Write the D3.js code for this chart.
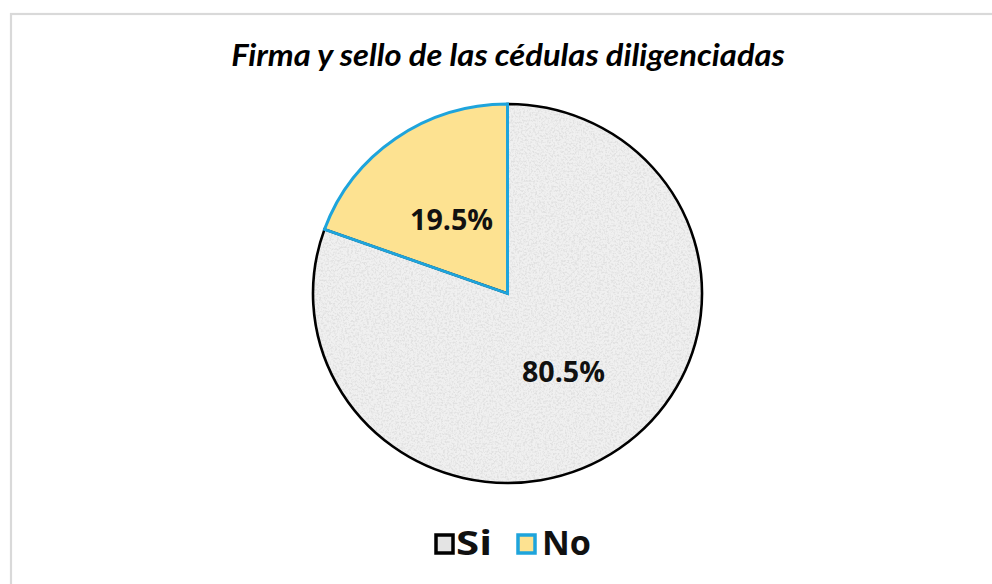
<!DOCTYPE html>
<html><head><meta charset="utf-8">
<script src="https://cdn.jsdelivr.net/npm/d3@7"></script>
<style>html,body{margin:0;padding:0;background:#fff;}svg{display:block;}</style>
</head><body>
<svg id="chart" width="992" height="584"></svg>
<script>
const title = "Firma y sello de las cédulas diligenciadas";
const categories = ["Si", "No"];
const values = [80.5, 19.5];
const labels = ["80.5%", "19.5%"];

const W = 992, H = 584;
const svg = d3.select("#chart");
const fills = {Si: "#f0f0f0", No: "#fde291"};
const strokes = {Si: "#000000", No: "#1ea4dc"};

const defs = svg.append("defs");
const f = defs.append("filter").attr("id", "grain").attr("x", 0).attr("y", 0).attr("width", "100%").attr("height", "100%");
f.append("feTurbulence").attr("type", "fractalNoise").attr("baseFrequency", 0.5).attr("numOctaves", 3).attr("seed", 5).attr("result", "t");
f.append("feColorMatrix").attr("in", "t").attr("type", "matrix")
  .attr("values", "0 0 0 0 0.68  0 0 0 0 0.68  0 0 0 0 0.68  3.2 0 0 0 -1.4");

// frame
svg.append("rect").attr("x", 0).attr("y", 0).attr("width", W).attr("height", H).attr("fill", "#fff");
svg.append("rect").attr("x", 11).attr("y", 14).attr("width", 1100).attr("height", 700)
  .attr("fill", "#fff").attr("stroke", "#d9d9d9").attr("stroke-width", 2.2);

// squeeze text horizontally to a target width around its anchor point
function squeeze(sel, target) {
  const bb = sel.node().getBBox();
  const k = target / bb.width;
  const ax = parseFloat(sel.attr("x"));
  sel.attr("transform", `translate(${ax},0) scale(${k},1) translate(${-ax},0)`);
}

const t = svg.append("text").attr("x", 508).attr("y", 66).attr("text-anchor", "middle")
  .attr("font-family", "Lato, 'Open Sans', sans-serif").attr("font-style", "italic").attr("font-weight", "bold")
  .attr("font-size", 30).attr("fill", "#000").text(title);
squeeze(t, 554);

const cx = 507.5, cy = 293.5, R = 194.5, sy = 0.974;
const pie = d3.pie().sort(null).value(d => d.v);
const data = pie(categories.map((c, i) => ({c, v: values[i], l: labels[i]})));
const arc = d3.arc().innerRadius(0).outerRadius(R);
const labArc = d3.arc().innerRadius(R * 0.5).outerRadius(R * 0.5);

const g = svg.append("g").attr("transform", `translate(${cx},${cy}) scale(1,${sy})`);
const cp = defs.append("clipPath").attr("id", "siclip");
cp.append("path").attr("d", arc(data[0]));

g.selectAll("path.slice").data(data).join("path").attr("class", "slice")
  .attr("d", arc).attr("fill", d => fills[d.data.c]);
g.append("rect").attr("x", -R).attr("y", -R).attr("width", 2 * R).attr("height", 2 * R)
  .attr("clip-path", "url(#siclip)").attr("filter", "url(#grain)").attr("opacity", 0.65);
g.selectAll("path.edge").data(data).join("path").attr("class", "edge")
  .attr("d", arc).attr("fill", "none").attr("stroke", d => strokes[d.data.c])
  .attr("stroke-width", d => d.data.c === "Si" ? 2.6 : 3).attr("stroke-linejoin", "miter");

data.forEach(d => {
  const [x, y] = labArc.centroid(d);
  const tx = svg.append("text").attr("x", cx + x).attr("y", cy + y * sy + (d.data.c === "No" ? 14 : 11))
    .attr("text-anchor", "middle").attr("font-family", "'Open Sans', sans-serif")
    .attr("font-weight", "bold").attr("font-size", 29).attr("fill", "#111").text(d.data.l);
  squeeze(tx, 83);
});

// legend
const legendItems = [
  {c: "Si", sx: 436, tx: 456, w: 36},
  {c: "No", sx: 518, tx: 542, w: 49}
];
legendItems.forEach(it => {
  svg.append("rect").attr("x", it.sx).attr("y", 535).attr("width", 17).attr("height", 18)
    .attr("fill", fills[it.c] === "#f0f0f0" ? "#e4e4e4" : fills[it.c]).attr("stroke", strokes[it.c]).attr("stroke-width", 3.5);
  const lt = svg.append("text").attr("x", it.tx).attr("y", 555).attr("font-family", "'Open Sans', sans-serif")
    .attr("font-weight", "bold").attr("font-size", 34).attr("fill", "#111").text(it.c);
  const k = it.w / lt.node().getBBox().width;
  lt.attr("transform", `translate(${it.tx},0) scale(${k},1) translate(${-it.tx},0)`);
});
</script>
</body></html>
